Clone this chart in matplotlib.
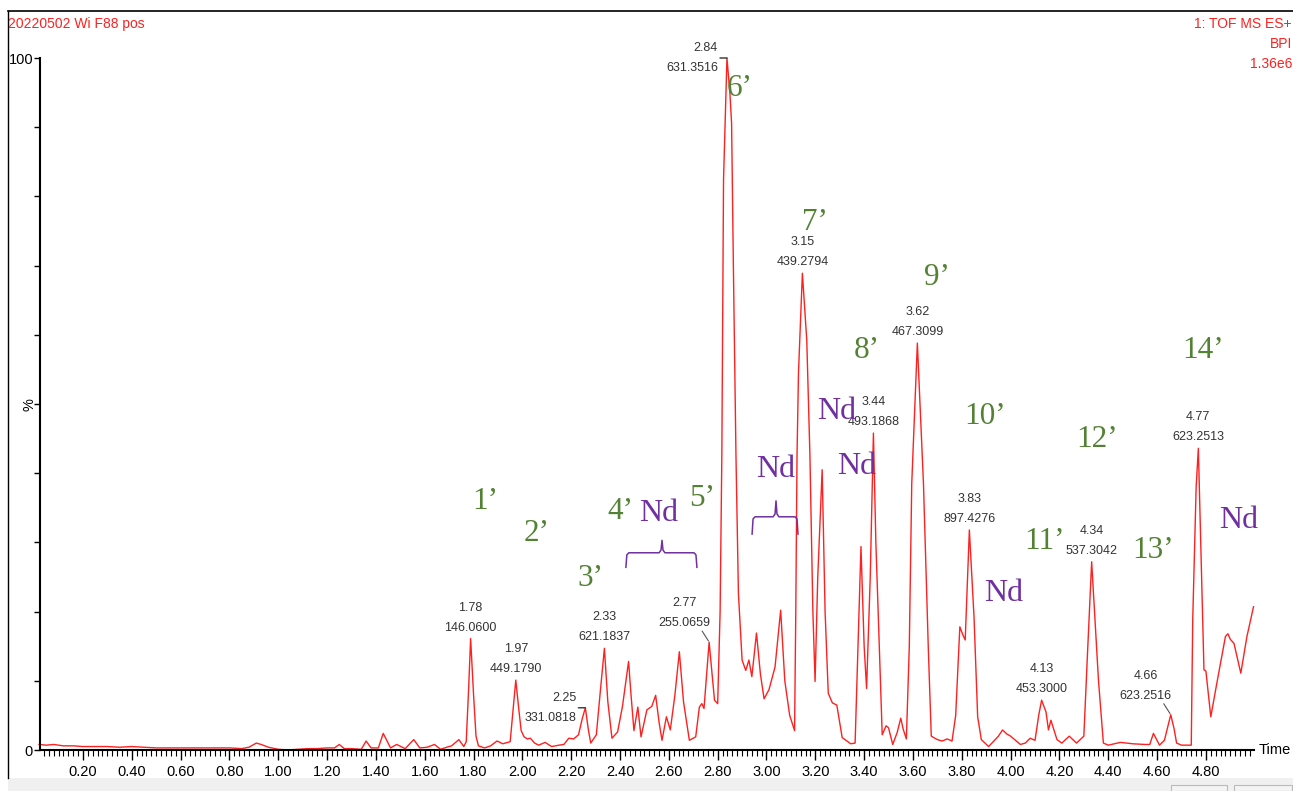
import numpy as np
import matplotlib.pyplot as plt
import matplotlib.font_manager as fm
from matplotlib.ticker import MultipleLocator
from matplotlib.patches import Rectangle

# base peak intensity chromatogram (time in min, %)
time = [0.02, 0.05, 0.08, 0.12, 0.16, 0.20, 0.25, 0.30, 0.35, 0.40, 0.45, 0.50,
        0.55, 0.60, 0.65, 0.70, 0.75, 0.80, 0.85, 0.88, 0.91, 0.93, 0.96, 1.00,
        1.04, 1.08, 1.12, 1.16, 1.20, 1.23, 1.25, 1.27, 1.30, 1.34, 1.36, 1.38,
        1.41, 1.43, 1.46, 1.485, 1.52, 1.555, 1.58, 1.61, 1.64, 1.665, 1.69, 1.71,
        1.74, 1.76, 1.77, 1.78, 1.788, 1.80, 1.81, 1.82, 1.845, 1.87, 1.896, 1.92,
        1.95, 1.96, 1.973, 1.985, 1.995, 2.007, 2.02, 2.033, 2.05, 2.067, 2.093, 2.12,
        2.15, 2.17, 2.19, 2.21, 2.23, 2.245, 2.258, 2.27, 2.28, 2.303, 2.318, 2.336,
        2.35, 2.367, 2.39, 2.41, 2.435, 2.445, 2.457, 2.473, 2.486, 2.51, 2.53, 2.546,
        2.56, 2.572, 2.59, 2.606, 2.625, 2.643, 2.66, 2.684, 2.71, 2.725, 2.735, 2.744,
        2.765, 2.787, 2.80, 2.81, 2.817, 2.824, 2.838, 2.850, 2.857, 2.864, 2.875, 2.885,
        2.90, 2.915, 2.928, 2.94, 2.959, 2.975, 2.99, 3.01, 3.035, 3.058, 3.075, 3.095,
        3.115, 3.12, 3.125, 3.131, 3.147, 3.165, 3.178, 3.19, 3.199, 3.21, 3.228, 3.24,
        3.253, 3.27, 3.288, 3.31, 3.345, 3.363, 3.375, 3.387, 3.40, 3.41, 3.425, 3.438,
        3.448, 3.458, 3.474, 3.49, 3.50, 3.517, 3.535, 3.55, 3.56, 3.573, 3.585, 3.595,
        3.618, 3.643, 3.663, 3.675, 3.70, 3.72, 3.74, 3.76, 3.775, 3.792, 3.806, 3.814,
        3.831, 3.85, 3.865, 3.88, 3.91, 3.95, 3.967, 3.985, 4.00, 4.04, 4.06, 4.08,
        4.10, 4.115, 4.127, 4.145, 4.155, 4.165, 4.19, 4.21, 4.24, 4.27, 4.30, 4.315,
        4.332, 4.36, 4.38, 4.40, 4.45, 4.50, 4.55, 4.57, 4.585, 4.61, 4.63, 4.656,
        4.67, 4.68, 4.70, 4.74, 4.746, 4.76, 4.769, 4.78, 4.792, 4.80, 4.82, 4.845,
        4.88, 4.89, 4.90, 4.915, 4.943, 4.968, 4.995]
intensity = [0.8, 0.7, 0.8, 0.6, 0.6, 0.5, 0.5, 0.5, 0.4, 0.5, 0.4, 0.3,
             0.3, 0.3, 0.3, 0.3, 0.3, 0.3, 0.2, 0.4, 1.0, 0.8, 0.4, 0.1,
             0.0, 0.1, 0.2, 0.2, 0.3, 0.3, 0.8, 0.2, 0.2, 0.1, 1.3, 0.3,
             0.3, 2.4, 0.3, 0.8, 0.2, 1.5, 0.3, 0.4, 0.8, 0.1, 0.4, 0.6,
             1.5, 0.5, 1.2, 9.0, 16.1, 8.0, 2.0, 0.6, 0.3, 0.6, 1.3, 0.9,
             1.2, 5.0, 10.1, 6.0, 2.8, 1.9, 1.6, 1.7, 1.0, 0.7, 1.1, 0.5,
             0.7, 0.8, 1.7, 1.6, 2.2, 4.5, 6.1, 3.0, 1.0, 2.2, 8.0, 14.7,
             7.0, 1.7, 2.6, 6.3, 12.8, 8.0, 2.8, 6.2, 1.9, 5.8, 6.3, 7.9,
             4.0, 1.4, 4.8, 2.9, 8.0, 14.2, 7.0, 1.4, 1.9, 6.2, 6.7, 6.0,
             15.6, 7.2, 6.7, 20.0, 42.4, 82.4, 100.0, 95.0, 90.6, 70.8, 42.4, 22.6,
             13.0, 11.5, 13.0, 10.6, 16.9, 11.0, 7.4, 8.7, 12.0, 20.2, 10.0, 5.0,
             2.8, 20.0, 42.4, 54.5, 68.9, 59.2, 42.4, 20.0, 9.9, 25.0, 40.5, 20.0,
             8.2, 6.8, 6.5, 1.8, 0.9, 1.0, 15.0, 29.4, 15.0, 8.9, 25.0, 45.8,
             30.0, 19.3, 2.2, 3.5, 3.2, 0.8, 2.5, 4.6, 3.0, 1.6, 15.0, 38.5,
             58.8, 38.5, 14.5, 2.0, 1.5, 1.3, 1.6, 1.3, 5.0, 17.8, 16.5, 15.9,
             31.8, 19.3, 4.8, 1.5, 0.5, 2.0, 2.9, 2.3, 2.0, 0.8, 1.0, 1.7,
             1.4, 5.0, 7.2, 5.5, 2.9, 4.3, 1.5, 1.0, 2.0, 1.0, 2.0, 14.0,
             27.2, 10.0, 1.0, 0.7, 1.1, 0.9, 0.8, 0.8, 2.4, 0.7, 1.4, 5.1,
             3.0, 1.0, 0.7, 0.7, 18.8, 38.0, 43.6, 28.4, 11.6, 11.4, 4.8, 9.7,
             16.4, 16.8, 16.0, 15.4, 11.1, 16.4, 20.7]

# peak annotations (retention time, m/z, how the software placed the label)
peak_rt = ["1.78", "1.97", "2.25", "2.33", "2.77", "2.84", "3.15",
           "3.44", "3.62", "3.83", "4.13", "4.34", "4.66", "4.77"]
peak_mz = ["146.0600", "449.1790", "331.0818", "621.1837", "255.0659", "631.3516", "439.2794",
           "493.1868", "467.3099", "897.4276", "453.3000", "537.3042", "623.2516", "623.2513"]
peak_style = ["top", "top", "dash", "top", "leader", "dash", "top",
              "top", "top", "top", "top", "top", "leader", "top"]

# compound numbers (green) and not-detected marks (purple)
comp_text = ["1\u2019", "2\u2019", "3\u2019", "4\u2019", "5\u2019", "6\u2019", "7\u2019",
             "8\u2019", "9\u2019", "10\u2019", "11\u2019", "12\u2019", "13\u2019", "14\u2019"]
comp_t = [1.847, 2.059, 2.277, 2.400, 2.735, 2.891, 3.199,
          3.410, 3.697, 3.895, 4.140, 4.355, 4.585, 4.789]
comp_i = [35.9, 31.3, 24.8, 34.4, 36.4, 95.6, 76.3,
          57.8, 68.3, 48.2, 30.1, 44.8, 28.9, 57.8]
nd_t = [2.560, 3.038, 3.288, 3.370, 3.973, 4.933]
nd_i = [34.2, 40.5, 48.9, 40.9, 22.6, 33.2]

# braces grouping the Nd regions: start, end, line level, end level, tip time, tip level
braces = [(2.424, 2.715, 28.5, 26.4, 2.572, 30.3),
          (2.941, 3.129, 33.7, 31.2, 3.039, 36.0)]

RED = "#ff2020"
GREEN = "#548235"
PURPLE = "#7030a0"
GREY = "#333333"

names = {f.name for f in fm.fontManager.ttflist}
if "Liberation Sans Narrow" in names:
    sans = "Liberation Sans Narrow"
    fs_peak, fs_tick, fs_head = 10, 11, 12
else:
    sans = "Liberation Sans"
    fs_peak, fs_tick, fs_head = 9, 10.5, 10
plt.rcParams["font.family"] = [sans, "DejaVu Sans"]

W, H = 1293, 791
fig = plt.figure(figsize=(W / 100, H / 100), dpi=100)

# window frame and status bar, kept behind the axes
fig.add_artist(Rectangle((8 / W, 0), 1 - 8 / W, 13 / H, transform=fig.transFigure,
                         facecolor="#f0f0f0", edgecolor="none", zorder=-5))
fig.add_artist(Rectangle((1171 / W, 0), 56 / W, 6 / H, transform=fig.transFigure,
                         facecolor="#f4f4f4", edgecolor="#bbbbbb", lw=0.8, zorder=-4))
fig.add_artist(Rectangle((1234 / W, 0), 58 / W, 6 / H, transform=fig.transFigure,
                         facecolor="#f4f4f4", edgecolor="#bbbbbb", lw=0.8, zorder=-4))
fig.add_artist(plt.Line2D([8 / W, 1], [1 - 11 / H] * 2, transform=fig.transFigure, color="black", lw=1.2))
fig.add_artist(plt.Line2D([8 / W] * 2, [1 - 11 / H, 13 / H], transform=fig.transFigure, color="black", lw=1.0))

ax = fig.add_axes([40 / W, 41 / H, (1254 - 40) / W, (750 - 58) / H])
ax.patch.set_alpha(0)

t = np.array(time)
y = np.array(intensity)
ax.plot(t, y, color=RED, lw=1.0, clip_on=False)

ax.set_xlim(0.024, 4.997)
ax.set_ylim(0, 100)
for s in ["top", "right"]:
    ax.spines[s].set_visible(False)
ax.spines["left"].set_linewidth(1.5)
ax.spines["bottom"].set_linewidth(1.5)

ax.xaxis.set_major_locator(MultipleLocator(0.2))
ax.xaxis.set_minor_locator(MultipleLocator(0.02))
ax.xaxis.set_major_formatter(plt.FuncFormatter(lambda v, p: f"{v:.2f}" if v > 0.1 else ""))
ax.tick_params(axis="x", which="major", length=7, width=1, pad=4, labelsize=fs_tick)
ax.tick_params(axis="x", which="minor", length=4, width=0.8)
ax.set_yticks(np.arange(0, 101, 10))
ax.set_yticklabels(["0"] + [""] * 9 + ["100"])
ax.tick_params(axis="y", length=4, width=1, pad=1, labelsize=fs_tick)

ax.text(1.004, 0.0, "Time", transform=ax.transAxes, ha="left", va="center", fontsize=fs_tick)
fig.text(30 / W, 1 - 405 / H, "%", rotation=90, ha="center", va="center", fontsize=fs_tick)

# peak labels
for rt, mz, style in zip(peak_rt, peak_mz, peak_style):
    c = float(rt)
    win = (t > c - 0.016) & (t < c + 0.016)
    k = np.argmax(np.where(win, y, -1))
    px, py = t[k], y[k]
    kw = dict(xy=(px, py), textcoords="offset pixels", fontsize=fs_peak, color=GREY, va="center")
    if style == "top":
        ax.annotate(rt, xytext=(0, 31), ha="center", **kw)
        ax.annotate(mz, xytext=(0, 11), ha="center", **kw)
    elif style == "dash":
        ax.annotate(rt, xytext=(-9, 10), ha="right", **kw)
        ax.annotate(mz, xytext=(-9, -10), ha="right", **kw)
        ax.annotate("", xy=(px, py), xytext=(-7, 0), textcoords="offset pixels",
                    arrowprops=dict(arrowstyle="-", color=GREY, lw=1.0, shrinkA=0, shrinkB=0))
    else:
        ax.annotate(rt, xytext=(-25, 39), ha="center", **kw)
        ax.annotate(mz, xytext=(-25, 19), ha="center", **kw)
        ax.annotate("", xy=(px, py), xytext=(-7, 11), textcoords="offset pixels",
                    arrowprops=dict(arrowstyle="-", color="#555555", lw=0.8, shrinkA=0, shrinkB=1))

for s, ct, ci in zip(comp_text, comp_t, comp_i):
    ax.text(ct, ci, s, color=GREEN, fontsize=22.5, family="Liberation Serif",
            ha="center", va="center")
for nt, ni in zip(nd_t, nd_i):
    ax.text(nt, ni, "Nd", color=PURPLE, fontsize=23, family="Liberation Serif",
            ha="center", va="center")

for x0, x1, yl, ye, xt, yt in braces:
    d = 0.012
    bx = [x0, x0 + 0.004, x0 + d, xt - d, xt - 0.004, xt, xt + 0.004, xt + d, x1 - d, x1 - 0.004, x1]
    by = [ye, yl - 0.3, yl, yl, yl + 0.4, yt, yl + 0.4, yl, yl, yl - 0.3, ye]
    ax.plot(bx, by, color=PURPLE, lw=1.1, solid_joinstyle="round")

# header texts
fig.text(8 / W, 1 - 24 / H, "20220502 Wi F88 pos", color=RED, fontsize=fs_head, ha="left", va="center")
fig.text(1292 / W, 1 - 24 / H, "1: TOF MS ES+", color=RED, fontsize=fs_head, ha="right", va="center")
fig.text(1292 / W, 1 - 44 / H, "BPI", color=RED, fontsize=fs_head, ha="right", va="center")
fig.text(1292 / W, 1 - 64 / H, "1.36e6", color=RED, fontsize=fs_head, ha="right", va="center")

fig.savefig("out.png", dpi=100)
